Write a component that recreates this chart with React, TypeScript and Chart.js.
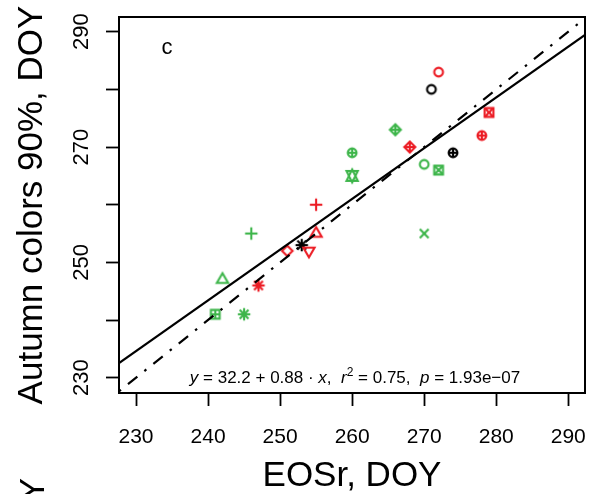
import React, { useEffect, useRef } from "react";
import { Chart, registerables } from "chart.js";

Chart.register(...registerables);

// ---------------- data ----------------
const eosr = [272, 271, 279, 266, 278, 268, 274, 260, 270, 272, 260, 255, 246, 270, 255, 253, 251, 254, 242, 247, 241, 245];
const autumn90 = [283, 280, 276, 273, 272, 270, 269, 269, 267, 266, 265, 260, 255, 255, 255, 253, 252, 252, 247, 246, 241, 241];
const groupColor = ["red", "black", "red", "green", "red", "red", "black", "green", "green", "green", "green", "red", "green", "green", "red", "black", "red", "red", "green", "red", "green", "green"];
const pchCode = [1, 1, 7, 9, 10, 9, 10, 10, 1, 7, 11, 3, 3, 4, 2, 8, 5, 6, 2, 8, 12, 8];

const xTickValues = [230, 240, 250, 260, 270, 280, 290];
const yTickValues = [230, 240, 250, 260, 270, 280, 290];
const yTickLabels = [230, 250, 270, 290];
const xRange = [227.64, 292.32];
const yRange = [227.35, 292.55];

const intercept = 32.2;
const slope = 0.88;
const r2 = 0.75;
const pValue = "1.93e\u221207";

const panelLetter = "c";
const panelLetterPos = [234.3, 287.2];
const xTitle = "EOSr, DOY";
const yTitle = "Autumn colors 90%, DOY";
const nextPanelYTitle = "Autumn colors 90%, DOY";

const palette: Record<string, string> = { red: "#EC1C24", green: "#3DB54A", black: "#000000" };
const FONT = '"Liberation Sans", Arial, Helvetica, sans-serif';

// ---------------- symbols (R pch) ----------------
function makeSymbol(pch: number, color: string): HTMLCanvasElement {
  const S = 22;
  const c = document.createElement("canvas");
  c.width = S;
  c.height = S;
  const g = c.getContext("2d")!;
  g.translate(S / 2, S / 2);
  g.strokeStyle = color;
  g.lineWidth = 2.1;
  g.lineCap = "butt";
  g.lineJoin = "miter";
  const u = 4.4;
  const circle = (r: number) => { g.beginPath(); g.arc(0, 0, r, 0, Math.PI * 2); g.stroke(); };
  const line = (a: number, b: number, cx: number, d: number) => { g.beginPath(); g.moveTo(a, b); g.lineTo(cx, d); g.stroke(); };
  const poly = (pts: number[][]) => {
    g.beginPath();
    pts.forEach((p, i) => (i ? g.lineTo(p[0], p[1]) : g.moveTo(p[0], p[1])));
    g.closePath();
    g.stroke();
  };
  const plus = (a: number) => { line(-a, 0, a, 0); line(0, -a, 0, a); };
  const times = (a: number) => { line(-a, -a, a, a); line(-a, a, a, -a); };
  const square = (a: number) => poly([[-a, -a], [a, -a], [a, a], [-a, a]]);
  const diamond = (a: number) => poly([[-a, 0], [0, -a], [a, 0], [0, a]]);
  const r = 1.5551 * u * 0.95, tx = 1.3468 * u * 0.95, ty = 0.7776 * u * 0.95;
  switch (pch) {
    case 1: circle(u); break;
    case 2: poly([[0, -r], [tx, ty], [-tx, ty]]); break;
    case 3: plus(Math.SQRT2 * u); break;
    case 4: times(u); break;
    case 5: diamond(1.2 * u); break;
    case 6: poly([[0, r], [tx, -ty], [-tx, -ty]]); break;
    case 7: square(u); times(u); break;
    case 8: times(u); plus(Math.SQRT2 * u); break;
    case 9: diamond(1.25 * u); plus(1.25 * u); break;
    case 10: circle(u); plus(u); break;
    case 11: {
      const yc = 0.5 * (ty + r);
      poly([[0, -r], [tx, yc], [-tx, yc]]);
      poly([[0, r], [tx, -yc], [-tx, -yc]]);
      break;
    }
    case 12: square(u); plus(u); break;
  }
  return c;
}

// ---------------- plugin for extra text & box ----------------
const decorPlugin = {
  id: "decor",
  afterDraw(chart: any) {
    const { ctx, chartArea: ca, scales } = chart;
    const xs = scales.x, ys = scales.y;
    ctx.save();
    // box
    ctx.strokeStyle = "#000";
    ctx.lineWidth = 2;
    ctx.strokeRect(ca.left, ca.top, ca.right - ca.left, ca.bottom - ca.top);

    // rotated y tick labels
    ctx.fillStyle = "#000";
    ctx.font = `22px ${FONT}`;
    ctx.textAlign = "center";
    ctx.textBaseline = "alphabetic";
    for (const v of yTickLabels) {
      const py = ys.getPixelForValue(v);
      ctx.save();
      ctx.translate(88, py);
      ctx.rotate(-Math.PI / 2);
      ctx.fillText(String(v), 0, 0);
      ctx.restore();
    }

    // panel letter
    ctx.font = `22px ${FONT}`;
    ctx.textAlign = "center";
    ctx.fillText(panelLetter, xs.getPixelForValue(panelLetterPos[0]), ys.getPixelForValue(panelLetterPos[1]) + 6);

    // equation
    const base = `17px ${FONT}`;
    const ital = `italic 17px ${FONT}`;
    const sup = `12px ${FONT}`;
    const segs: { t: string; f: string; dy: number }[] = [
      { t: "y", f: ital, dy: 0 },
      { t: ` = ${intercept} + ${slope} \u00B7 `, f: base, dy: 0 },
      { t: "x", f: ital, dy: 0 },
      { t: ",  ", f: base, dy: 0 },
      { t: "r", f: ital, dy: 0 },
      { t: "2", f: sup, dy: -7 },
      { t: ` = ${r2.toFixed(2)},  `, f: base, dy: 0 },
      { t: "p", f: ital, dy: 0 },
      { t: ` = ${pValue}`, f: base, dy: 0 },
    ];
    let total = 0;
    for (const s of segs) { ctx.font = s.f; total += ctx.measureText(s.t).width; }
    let x0 = (ca.left + ca.right) / 2 + 3 - total / 2;
    const yb = ca.bottom - 10;
    ctx.textAlign = "left";
    for (const s of segs) {
      ctx.font = s.f;
      ctx.fillText(s.t, x0, yb + s.dy);
      x0 += ctx.measureText(s.t).width;
    }

    // fragment of next panel's y title (cut off at the bottom)
    ctx.save();
    ctx.font = `35px ${FONT}`;
    ctx.textAlign = "right";
    ctx.translate(44, 478);
    ctx.rotate(-Math.PI / 2);
    ctx.fillText(nextPanelYTitle, 0, 0);
    ctx.restore();

    ctx.restore();
  },
};

export default function App() {
  const ref = useRef<HTMLCanvasElement | null>(null);
  useEffect(() => {
    if (!ref.current) return;
    const imgs = pchCode.map((p, i) => makeSymbol(p, palette[groupColor[i]]));
    const points = eosr.map((x, i) => ({ x, y: autumn90[i] }));
    const regLine = xRange.map((x) => ({ x, y: intercept + slope * x }));
    const oneToOne = xRange.map((x) => ({ x, y: x }));

    const chart = new Chart(ref.current, {
      type: "scatter",
      data: {
        datasets: [
          {
            data: regLine,
            showLine: true,
            borderColor: "#000",
            borderWidth: 2.2,
            pointRadius: 0,
            order: 0,
          } as any,
          {
            data: oneToOne,
            showLine: true,
            borderColor: "#000",
            borderWidth: 2.2,
            borderDash: [2.5, 9, 12, 9],
            pointRadius: 0,
            order: 1,
          } as any,
          {
            data: points,
            showLine: false,
            pointStyle: (c: any) => imgs[c.dataIndex],
            pointRadius: 6,
            order: 2,
          } as any,
        ],
      },
      options: {
        responsive: false,
        maintainAspectRatio: false,
        animation: false,
        events: [],
        layout: { padding: { left: 0, right: 7, top: 17, bottom: 0 } },
        plugins: { legend: { display: false }, tooltip: { enabled: false } },
        scales: {
          x: {
            type: "linear",
            min: xRange[0],
            max: xRange[1],
            afterBuildTicks: (s: any) => { s.ticks = xTickValues.map((v) => ({ value: v })); },
            afterFit: (s: any) => { s.height = 101; s.paddingLeft = 0; s.paddingRight = 0; },
            grid: { drawOnChartArea: false, drawTicks: true, tickLength: 13, tickWidth: 1.8, tickColor: "#000", color: "#000" },
            border: { display: false },
            ticks: {
              color: "#000",
              font: { family: FONT, size: 21, lineHeight: 1 },
              padding: 21,
              maxRotation: 0,
              minRotation: 0,
              autoSkip: false,
              callback: (v: any) => String(v),
            },
            title: {
              display: true,
              text: xTitle,
              color: "#000",
              font: { family: FONT, size: 35, lineHeight: 1 },
              padding: { top: 0, bottom: 0 },
            },
          },
          y: {
            type: "linear",
            min: yRange[0],
            max: yRange[1],
            afterBuildTicks: (s: any) => { s.ticks = yTickValues.map((v) => ({ value: v })); },
            afterFit: (s: any) => { s.width = 119; s.paddingTop = 0; s.paddingBottom = 0; },
            grid: { drawOnChartArea: false, drawTicks: true, tickLength: 13, tickWidth: 1.8, tickColor: "#000", color: "#000" },
            border: { display: false },
            ticks: { display: false },
            title: {
              display: true,
              text: yTitle,
              color: "#000",
              font: { family: FONT, size: 35, lineHeight: 1 },
              padding: { top: 15, bottom: 0 },
            },
          },
        },
      },
      plugins: [decorPlugin],
    });
    return () => chart.destroy();
  }, []);

  return (
    <div style={{ position: "fixed", left: 0, top: 0, width: 592, height: 494, background: "#fff" }}>
      <canvas ref={ref} width={592} height={494} style={{ display: "block" }} />
    </div>
  );
}
